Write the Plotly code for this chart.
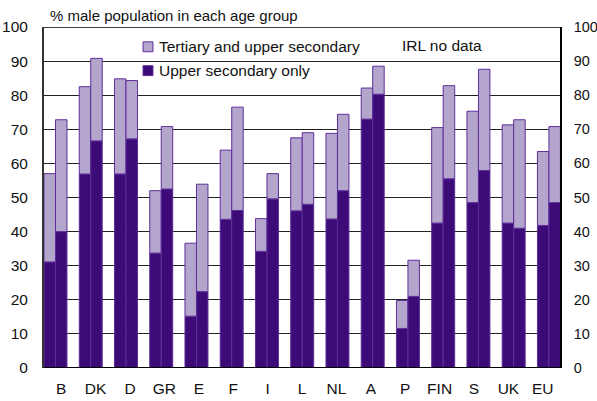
import plotly.graph_objects as go

# Countries and the two age groups (left bar / right bar of each pair)
countries = ["B", "DK", "D", "GR", "E", "F", "I", "L", "NL", "A", "P", "FIN", "S", "UK", "EU"]

# Share with at least upper secondary education (bar top), %
total_older = [57.0, 82.5, 84.8, 52.0, 36.6, 63.9, 43.8, 67.5, 68.8, 82.1, 19.8, 70.5, 75.3, 71.3, 63.5]
total_younger = [72.8, 90.8, 84.3, 70.8, 53.9, 76.5, 57.0, 69.0, 74.4, 88.5, 31.6, 82.8, 87.6, 72.8, 70.8]

# Share with upper secondary only (dark part), %
upper_older = [31.1, 56.9, 56.9, 33.7, 15.2, 43.6, 34.2, 46.1, 43.7, 73.0, 11.6, 42.5, 48.5, 42.5, 41.8]
upper_younger = [40.0, 66.6, 67.2, 52.5, 22.4, 46.2, 49.6, 48.0, 52.0, 80.3, 21.0, 55.5, 57.9, 41.0, 48.5]

y_ticks = [0, 10, 20, 30, 40, 50, 60, 70, 80, 90, 100]

DARK = "#3d0b77"
LIGHT = "#b4a5cd"
EDGE = "#5e2f9a"

positions = list(range(len(countries)))

fig = go.Figure()

for grp, total, upper in (("older", total_older, upper_older),
                          ("younger", total_younger, upper_younger)):
    tertiary = [t - u for t, u in zip(total, upper)]
    fig.add_trace(go.Bar(
        x=positions, y=upper, offsetgroup=grp,
        marker=dict(color=DARK, line=dict(color=EDGE, width=1)),
        name="Upper secondary only", showlegend=False,
    ))
    fig.add_trace(go.Bar(
        x=positions, y=tertiary, base=upper, offsetgroup=grp,
        marker=dict(color=LIGHT, line=dict(color=EDGE, width=1)),
        name="Tertiary and upper secondary", showlegend=False,
    ))

# Category labels on their own evenly spaced axis
fig.add_trace(go.Scatter(x=positions, y=[None] * len(positions), xaxis="x2",
                         mode="markers", showlegend=False, hoverinfo="skip"))
# Mirror trace for the right-hand value axis
fig.add_trace(go.Scatter(x=positions, y=[None] * len(positions), yaxis="y2",
                         mode="markers", showlegend=False, hoverinfo="skip"))

font_family = "Liberation Sans, Arial, sans-serif"
TICK = 15.5

# Hand-built key: swatch squares and labels
legend_items = [("Tertiary and upper secondary", LIGHT, 94.2),
                ("Upper secondary only", DARK, 87.2)]
shapes = [
    # white panel behind the key, interrupting the 90 gridline
    dict(type="rect", xref="paper", yref="y", x0=0.1628, x1=0.6298,
         y0=84.5, y1=99.6, fillcolor="white", line=dict(width=0),
         layer="between"),
    # frame top and bottom
    dict(type="line", xref="paper", yref="y", x0=0, x1=1, y0=100, y1=100,
         line=dict(color="#000", width=1.5)),
    dict(type="line", xref="paper", yref="y", x0=0, x1=1, y0=0, y1=0,
         line=dict(color="#000", width=2)),
]
annotations = [
    dict(text="% male population in each age group", xref="paper", yref="paper",
         x=0.008, y=1.0, xanchor="left", yanchor="bottom", yshift=1,
         showarrow=False, font=dict(size=15)),
    dict(text="IRL no data", xref="paper", yref="y", x=0.771, y=94.7,
         xanchor="center", yanchor="middle", showarrow=False,
         font=dict(size=15.5)),
]
for label, color, yc in legend_items:
    shapes.append(dict(type="rect", xref="paper", yref="y",
                       x0=0.1919, x1=0.2112, y0=yc - 1.45, y1=yc + 1.45,
                       fillcolor=color, line=dict(color=EDGE, width=1)))
    annotations.append(dict(text=label, xref="paper", yref="y", x=0.219, y=yc,
                            xanchor="left", yanchor="middle", showarrow=False,
                            font=dict(size=15.5)))

fig.update_layout(
    width=597, height=401,
    margin=dict(l=44, r=37, t=27, b=33, autoexpand=False),
    paper_bgcolor="white", plot_bgcolor="white",
    barmode="group", bargap=0.348, bargroupgap=0,
    font=dict(family=font_family, size=15, color="#111"),
    showlegend=False,
    xaxis=dict(range=[-0.326, 14.314], showticklabels=False, showgrid=False,
               zeroline=False, ticks="", showline=False, fixedrange=True,
               automargin=False),
    xaxis2=dict(range=[-0.5, 14.5], overlaying="x", anchor="y", side="bottom",
                tickmode="array", tickvals=positions, ticktext=countries,
                showgrid=False, zeroline=False, ticks="", showline=False,
                ticklabelstandoff=9, tickfont=dict(size=TICK), automargin=False),
    yaxis=dict(range=[0, 100], tickvals=y_ticks, showgrid=True,
               gridcolor="#222", gridwidth=1, zeroline=False,
               showline=True, linecolor="#333", linewidth=2, mirror=False,
               ticks="", ticklabelstandoff=11, tickfont=dict(size=TICK),
               automargin=False),
    yaxis2=dict(range=[0, 100], tickvals=y_ticks, overlaying="y", side="right",
                anchor="x", showgrid=False, zeroline=False,
                showline=True, linecolor="#000", linewidth=1.5,
                ticks="", ticklabelstandoff=9, tickfont=dict(size=14.5),
                automargin=False),
    shapes=shapes,
    annotations=annotations,
)

fig.write_html("out.html")
